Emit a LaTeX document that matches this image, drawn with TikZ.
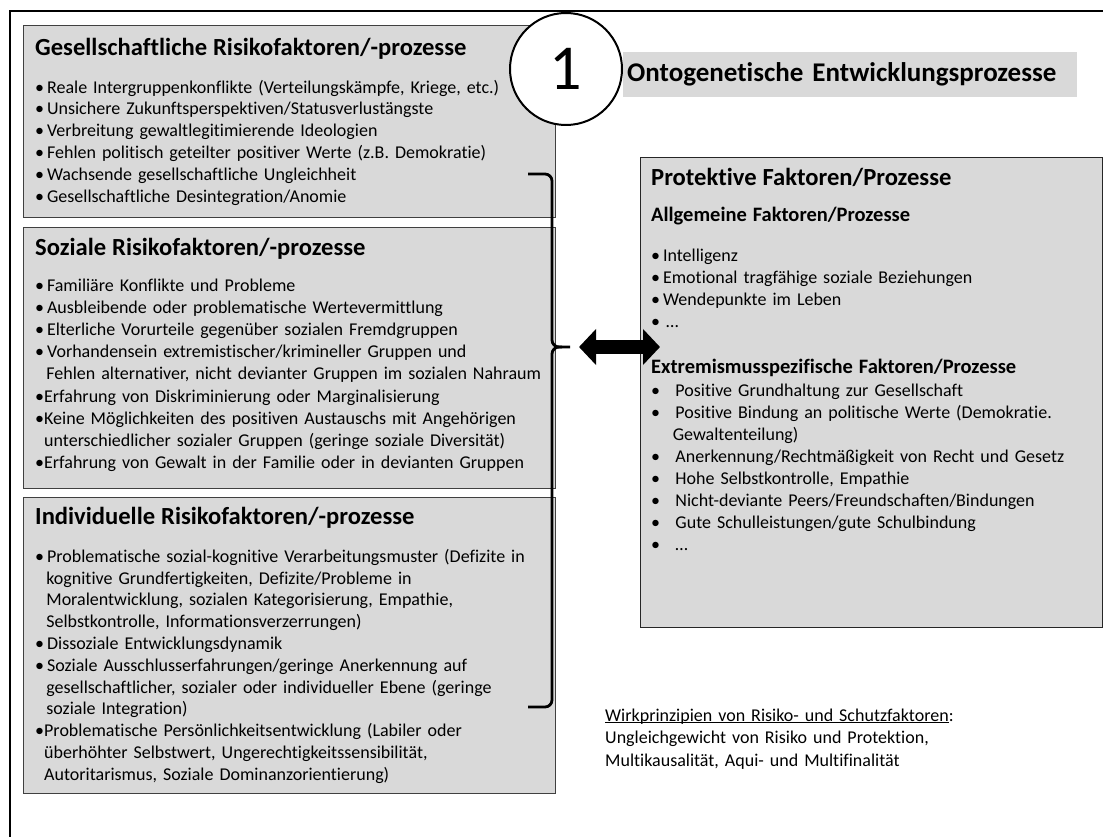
\documentclass[tikz,border=0pt]{standalone}
\usepackage{fontspec}
\setmainfont{Carlito}[Ligatures=CommonOff]
\usetikzlibrary{positioning,arrows.meta}
\frenchspacing

\definecolor{boxgray}{RGB}{217,217,217}
\definecolor{rimgray}{RGB}{64,64,64}

% headings and bullet lines inside the boxes
\newcommand{\hd}[1]{\noindent{\fontsize{24.6}{28}\selectfont\bfseries\rule{0pt}{22pt}#1\par}}
\newcommand{\subhd}[1]{\noindent{\fontsize{20.5}{25}\selectfont\bfseries #1\par}}
\newcommand{\bul}[1]{\par\hangindent=0.62em\hangafter=1\noindent\makebox[0.66em][l]{\textbullet}#1\par}
\newcommand{\bulx}[1]{\par\hangindent=0.5em\hangafter=1\noindent\makebox[0.5em][l]{\textbullet}#1\par}
\newcommand{\bulw}[1]{\par\hangindent=1.2em\hangafter=1\noindent\makebox[1.35em][l]{\textbullet}#1\par}
% underline through the descenders
\newsavebox{\ulbox}
\newcommand{\ulin}[1]{\sbox{\ulbox}{#1}\rlap{\rule[-2.2pt]{\wd\ulbox}{1pt}}\usebox{\ulbox}}

\begin{document}
\begin{tikzpicture}[x=1pt, y=-1pt,
    every node/.style={inner sep=0pt},
    riskbox/.style={draw=rimgray, fill=boxgray, line width=1.3pt, anchor=north west},
    boxtext/.style={anchor=north west, align=left, font=\fontsize{18}{21.8}\selectfont},
    titlebar/.style={fill=boxgray, anchor=north west, align=left, inner xsep=4pt,
      font=\fontsize{27}{30}\selectfont\bfseries},
    numcircle/.style={circle, draw, line width=2pt, fill=white, minimum size=112pt,
      font=\fontsize{64}{64}\selectfont},
    brk/.style={line width=2.8pt, rounded corners=7pt},
    dbl/.style={line width=14pt, {Triangle[length=17pt,width=35pt]}-{Triangle[length=17pt,width=35pt]}},
  ]
% -------------------------------------------------
% page and outer frame
\useasboundingbox (0,0) rectangle (1103,837);
\clip (0,0) rectangle (1103,837);
\draw[line width=2.6pt] (10,11) rectangle (1130,870);

% -------------------------------------------------
% the three risk boxes on the left
\node[riskbox, minimum width=532pt, minimum height=192pt] (ges) at (23,25) {};
\node[riskbox, minimum width=532pt, minimum height=261pt] (soz) at (23,227) {};
\node[riskbox, minimum width=532pt, minimum height=296pt] (ind) at (23,497) {};

\node[boxtext, text width=525pt] (gestxt) at ([shift={(12,8.7)}]ges.north west) {%
  \hd{Gesellschaftliche Risikofaktoren/-prozesse}\vspace{15.5pt}
  \bul{Reale Intergruppenkonflikte (Verteilungskämpfe, Kriege, etc.)}
  \bul{Unsichere Zukunftsperspektiven/Statusverlustängste}
  \bul{Verbreitung gewaltlegitimierende Ideologien}
  \bul{Fehlen politisch geteilter positiver Werte (z.B. Demokratie)}
  \bul{Wachsende gesellschaftliche Ungleichheit}
  \bul{Gesellschaftliche Desintegration/Anomie}};

\node[boxtext, text width=525pt, font=\fontsize{18}{22.2}\selectfont] (soztxt) at ([shift={(12,6.7)}]soz.north west) {%
  \hd{Soziale Risikofaktoren/-prozesse}\vspace{13.1pt}
  \bul{Familiäre Konflikte und Probleme}
  \bul{Ausbleibende oder problematische Wertevermittlung}
  \bul{Elterliche Vorurteile gegenüber sozialen Fremdgruppen}
  \bul{Vorhandensein extremistischer/krimineller Gruppen und\newline Fehlen alternativer, nicht devianter Gruppen im sozialen Nahraum}
  \bulx{Erfahrung von Diskriminierung oder Marginalisierung}
  \bulx{Keine Möglichkeiten des positiven Austauschs mit Angehörigen\newline unterschiedlicher sozialer Gruppen (geringe soziale Diversität)}
  \bulx{Erfahrung von Gewalt in der Familie oder in devianten Gruppen}};

\node[boxtext, text width=525pt] (indtxt) at ([shift={(12,5.7)}]ind.north west) {%
  \hd{Individuelle Risikofaktoren/-prozesse}\vspace{15.5pt}
  \bul{Problematische sozial-kognitive Verarbeitungsmuster (Defizite in\newline kognitive Grundfertigkeiten, Defizite/Probleme in\newline Moralentwicklung, sozialen Kategorisierung, Empathie,\newline Selbstkontrolle, Informationsverzerrungen)}
  \bul{Dissoziale Entwicklungsdynamik}
  \bul{Soziale Ausschlusserfahrungen/geringe Anerkennung auf\newline gesellschaftlicher, sozialer oder individueller Ebene (geringe\newline soziale Integration)}
  \bulx{Problematische Persönlichkeitsentwicklung (Labiler oder\newline überhöhter Selbstwert, Ungerechtigkeitssensibilität,\newline Autoritarismus, Soziale Dominanzorientierung)}};

% -------------------------------------------------
% protective factors on the right
\node[riskbox, draw=black!85, minimum width=462pt, minimum height=470pt] (prot) at (640,157) {};
\node[boxtext, text width=445pt, font=\fontsize{18}{22}\selectfont] (prottxt) at ([shift={(11,6.7)}]prot.north west) {%
  \hd{Protektive Faktoren/Prozesse}\vspace{10.9pt}
  \subhd{Allgemeine Faktoren/Prozesse}\vspace{17.4pt}
  \bul{Intelligenz}
  \bul{Emotional tragfähige soziale Beziehungen}
  \bul{Wendepunkte im Leben}
  \bul{\,…}
  \vspace{21.6pt}
  \subhd{Extremismusspezifische Faktoren/Prozesse}\vspace{0.4pt}
  \bulw{Positive Grundhaltung zur Gesellschaft}
  \bulw{Positive Bindung an politische Werte (Demokratie.\newline Gewaltenteilung)}
  \bulw{Anerkennung/Rechtmäßigkeit von Recht und Gesetz}
  \bulw{Hohe Selbstkontrolle, Empathie}
  \bulw{Nicht-deviante Peers/Freundschaften/Bindungen}
  \bulw{Gute Schulleistungen/gute Schulbindung}
  \bulw{…}};

% -------------------------------------------------
% heading bar and number
\node[titlebar, text width=446pt, minimum height=45pt] (onto) at (623,52) {Ontogenetische Entwicklungsprozesse};
\node[numcircle] (num) at (566,69) {1};

% -------------------------------------------------
% bracket and double arrow
\coordinate (brtop) at (528,174);
\coordinate (brtip) at (570,347);
\coordinate (brbot) at (528,707);
\draw[brk] (brtop) -- ++(24,0) |- (brtip);
\draw[brk] (brbot) -- ++(24,0) |- ([xshift=-8]brtip);
\draw[dbl] ([xshift=9]brtip) -- ([xshift=20]brtip -| prot.west);

% -------------------------------------------------
% note at the bottom
\node[boxtext, text width=470pt, font=\fontsize{18}{22.5}\selectfont] (wirk) at (605,705) {%
  \rule{0pt}{16pt}\ulin{Wirkprinzipien von Risiko- und Schutzfaktoren}:\newline
  Ungleichgewicht von Risiko und Protektion,\newline
  Multikausalität, Aqui- und Multifinalität};
\end{tikzpicture}
\end{document}
